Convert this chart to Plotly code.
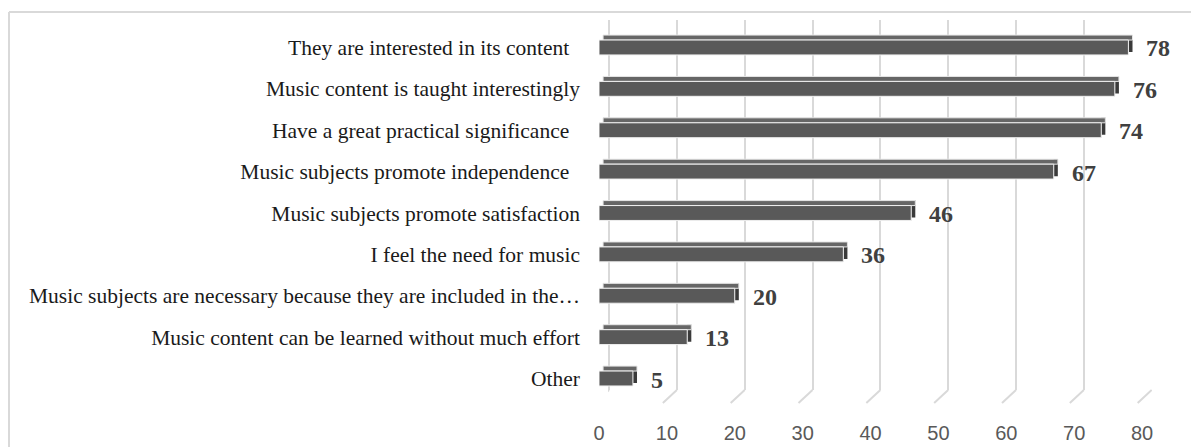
import plotly.graph_objects as go

categories = [
    "They are interested in its content\u00a0\u00a0",
    "Music content is taught interestingly",
    "Have a great practical significance\u00a0\u00a0",
    "Music subjects promote independence\u00a0\u00a0",
    "Music subjects promote satisfaction",
    "I feel the need for music",
    "Music subjects are necessary because they are included in the\u2026",
    "Music content can be learned without much effort",
    "Other",
]
values = [78, 76, 74, 67, 46, 36, 20, 13, 5]
ticks = [0, 10, 20, 30, 40, 50, 60, 70, 80]

W, H = 1191, 447
L, R, T, B = 594, 1152, 20, 403  # plot area pixel box
pw, ph = R - L, B - T


def fx(px):
    return (px - L) / pw


def fy(py):
    return (B - py) / ph


DEPTH = 0.6  # 3D depth in data units

fig = go.Figure()

# side face (end cap)
fig.add_trace(go.Bar(
    y=categories, x=[DEPTH] * len(values), base=values, orientation="h",
    offset=-0.30, width=0.41, marker=dict(color="#3a3a3a", line=dict(width=0)),
    xaxis="x2", yaxis="y2", hoverinfo="skip", showlegend=False,
))
# top face
fig.add_trace(go.Bar(
    y=categories, x=values, base=[DEPTH] * len(values), orientation="h",
    offset=-0.30, width=0.12,
    marker=dict(color="#666666", line=dict(color="#e6e6e6", width=1)),
    xaxis="x2", yaxis="y2", hoverinfo="skip", showlegend=False,
))
# front face
fig.add_trace(go.Bar(
    y=categories, x=values, orientation="h", width=0.36,
    marker=dict(color="#595959", line=dict(color="#f0f0f0", width=1)),
    xaxis="x2", yaxis="y2", hoverinfo="skip", showlegend=False,
))

annotations = [
    dict(x=v, y=c, xref="x2", yref="y2", text=str(v), showarrow=False,
         xanchor="left", yanchor="middle", xshift=16, yshift=-1,
         font=dict(family="Liberation Serif", size=24, color="#404040", weight="bold"))
    for c, v in zip(categories, values)
]

shapes = []
# slanted floor lines for gridlines
for t in ticks:
    shapes.append(dict(type="line", xref="x", yref="paper",
                       x0=t, y0=fy(390), x1=t - 14 / 6.79, y1=fy(403),
                       line=dict(color="#d9d9d9", width=2), layer="below"))
# outer frame (top and left)
shapes.append(dict(type="line", xref="paper", yref="paper",
                   x0=fx(9), y0=fy(12), x1=fx(W + 5), y1=fy(12),
                   line=dict(color="#d9d9d9", width=2)))
shapes.append(dict(type="line", xref="paper", yref="paper",
                   x0=fx(9), y0=fy(12), x1=fx(9), y1=fy(H + 5),
                   line=dict(color="#d9d9d9", width=2)))

fig.update_layout(
    template="none",
    width=W, height=H,
    margin=dict(l=L, r=W - R, t=T, b=H - B, autoexpand=False),
    paper_bgcolor="white", plot_bgcolor="rgba(0,0,0,0)",
    barmode="overlay",
    showlegend=False,
    annotations=annotations,
    shapes=shapes,
    # back plane grid
    xaxis=dict(domain=[fx(608), 1.0], range=[-0.15, 80.05], anchor="y",
               tickvals=ticks, showgrid=True, gridcolor="#d9d9d9", gridwidth=2,
               showticklabels=False, zeroline=False, showline=False, ticks=""),
    yaxis=dict(domain=[fy(390), 1.0], range=[0, 1], anchor="x",
               visible=False, showgrid=False, zeroline=False),
    # bars / front axis
    xaxis2=dict(domain=[fx(599), fx(1142)], range=[0, 80], anchor="y2",
                tickvals=ticks, showgrid=False, zeroline=False, showline=False,
                ticks="", ticklabelstandoff=20,
                tickfont=dict(family="Liberation Sans", size=20, color="#595959")),
    yaxis2=dict(domain=[fy(399.2), fy(26.8)], anchor="x2",
                type="category", categoryorder="array", categoryarray=categories,
                range=[8.5, -0.5], showgrid=False, zeroline=False, showline=False,
                ticks="", ticklabelstandoff=18,
                tickfont=dict(family="Liberation Serif", size=21.5, color="#1a1a1a")),
)

fig.write_html("out.html")
